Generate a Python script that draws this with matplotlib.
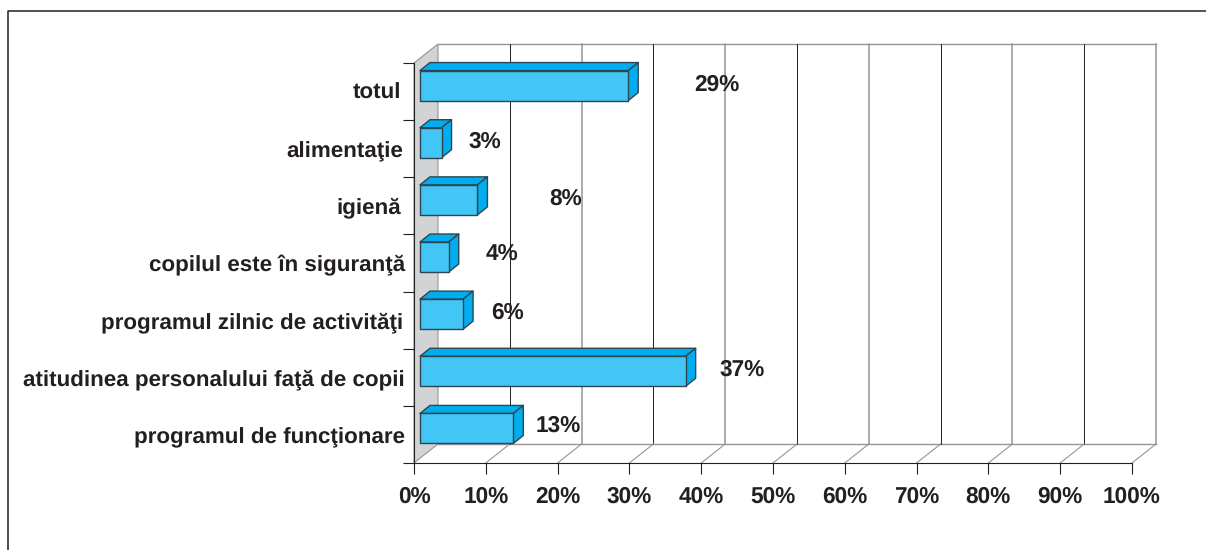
import matplotlib
matplotlib.use("Agg")
import matplotlib.pyplot as plt
from matplotlib.patches import Polygon

categories = [
    "programul de funcţionare",
    "atitudinea personalului faţă de copii",
    "programul zilnic de activităţi",
    "copilul este în siguranţă",
    "igienă",
    "alimentaţie",
    "totul",
]
values = [13, 37, 6, 4, 8, 3, 29]
value_labels = ["13%", "37%", "6%", "4%", "8%", "3%", "29%"]
x_ticks = [0, 10, 20, 30, 40, 50, 60, 70, 80, 90, 100]
x_tick_labels = ["0%", "10%", "20%", "30%", "40%", "50%", "60%", "70%", "80%", "90%", "100%"]

# label placement next to the bars, the source chart has them scattered (px from bar end / band centre)
label_dx = [45, 56, 44, 53, 88, 43, 89]
label_dy = [9, 8, 7, 9, 7, 7, 7]
# right edge of the category labels, px left of the axis
cat_pad = [9, 9, 11, 9, 13, 11, 13]
cat_dy = [2, 2, 2, 2, 1, 2, 1]

W, H = 1206, 550
INK = "#231f20"
GREY = "#939598"
FRONT = "#41c6f6"
SIDE = "#00aeef"
WALL = "#d1d3d4"

PX_X = 718 / 100
PX_Y = 400 / 7
DEPTH_X = 24 / PX_X
DEPTH_Y = 19 / PX_Y


def main():
    plt.rcParams["font.family"] = ["Liberation Sans", "DejaVu Sans"]
    plt.rcParams["font.weight"] = "bold"
    plt.rcParams["text.hinting"] = "no_hinting"

    fig = plt.figure(figsize=(W / 100, H / 100), dpi=100)
    fig.add_artist(plt.Line2D([8 / W, 8 / W, 1], [0, 1 - 11 / H, 1 - 11 / H], color=INK, lw=1.1))

    ax = fig.add_axes([414 / W, 1 - 463 / H, 718 / W, 400 / H])
    ax.set_xlim(0, 100)
    ax.set_ylim(0, len(categories))
    ax.patch.set_visible(False)
    for side in ["top", "right"]:
        ax.spines[side].set_visible(False)
    for side in ["left", "bottom"]:
        ax.spines[side].set_color(INK)
        ax.spines[side].set_linewidth(0.8)

    n = len(categories)
    # side wall
    ax.add_patch(Polygon([(0, 0), (DEPTH_X, DEPTH_Y), (DEPTH_X, n + DEPTH_Y), (0, n)],
                         facecolor=WALL, edgecolor=GREY, lw=0.8, clip_on=False, zorder=1))
    # back wall frame and grid
    ax.plot([DEPTH_X, 100 + DEPTH_X], [n + DEPTH_Y, n + DEPTH_Y], color=GREY, lw=1, clip_on=False, zorder=1)
    ax.plot([DEPTH_X, 100 + DEPTH_X], [DEPTH_Y, DEPTH_Y], color=GREY, lw=1, clip_on=False, zorder=1)
    for i, t in enumerate(x_ticks):
        if t == 0:
            continue
        ax.plot([t + DEPTH_X, t + DEPTH_X], [DEPTH_Y, n + DEPTH_Y], color=INK if i % 2 else GREY,
                lw=0.7 if i % 2 else 1.1, clip_on=False, zorder=1)
        ax.plot([t, t + DEPTH_X], [0, DEPTH_Y], color=GREY, lw=0.8, clip_on=False, zorder=1)

    # bars
    x0 = 6 / PX_X
    bar_h = 30 / PX_Y
    bar_dx = 10 / PX_X
    bar_dy = 8 / PX_Y
    for i, v in enumerate(values):
        y0 = i + 0.5 + 6 / PX_Y - bar_h / 2
        x1 = x0 + v
        y1 = y0 + bar_h
        kw = dict(edgecolor="#2f4650", lw=1.0, clip_on=False, zorder=3, joinstyle="round")
        ax.add_patch(Polygon([(x0, y1), (x0 + bar_dx, y1 + bar_dy), (x1 + bar_dx, y1 + bar_dy), (x1, y1)],
                             facecolor=SIDE, **kw))
        ax.add_patch(Polygon([(x1, y0), (x1 + bar_dx, y0 + bar_dy), (x1 + bar_dx, y1 + bar_dy), (x1, y1)],
                             facecolor=SIDE, **kw))
        ax.add_patch(Polygon([(x0, y0), (x1, y0), (x1, y1), (x0, y1)], facecolor=FRONT, **kw))
        ax.annotate(value_labels[i], xy=(x1, i + 0.5), xytext=(label_dx[i] * 0.72, label_dy[i] * 0.72),
                    textcoords="offset points", ha="center", va="center", fontsize=16.3,
                    color=INK, zorder=4)

    ax.set_xticks(x_ticks)
    ax.set_xticklabels(x_tick_labels, fontsize=16.3, color=INK)
    ax.set_yticks(range(n + 1))
    ax.set_yticklabels([])
    ax.tick_params(axis="x", length=8, width=0.8, color=INK, pad=8.5)
    ax.tick_params(axis="y", length=8, width=0.8, color=INK)
    for i, cat in enumerate(categories):
        ax.annotate(cat, xy=(0, i + 0.5), xytext=(-cat_pad[i] * 0.72, -cat_dy[i]), textcoords="offset points",
                    ha="right", va="center", fontsize=16.1, color=INK)

    fig.savefig("out.png", dpi=100)
    plt.close(fig)


if __name__ == "__main__":
    main()
